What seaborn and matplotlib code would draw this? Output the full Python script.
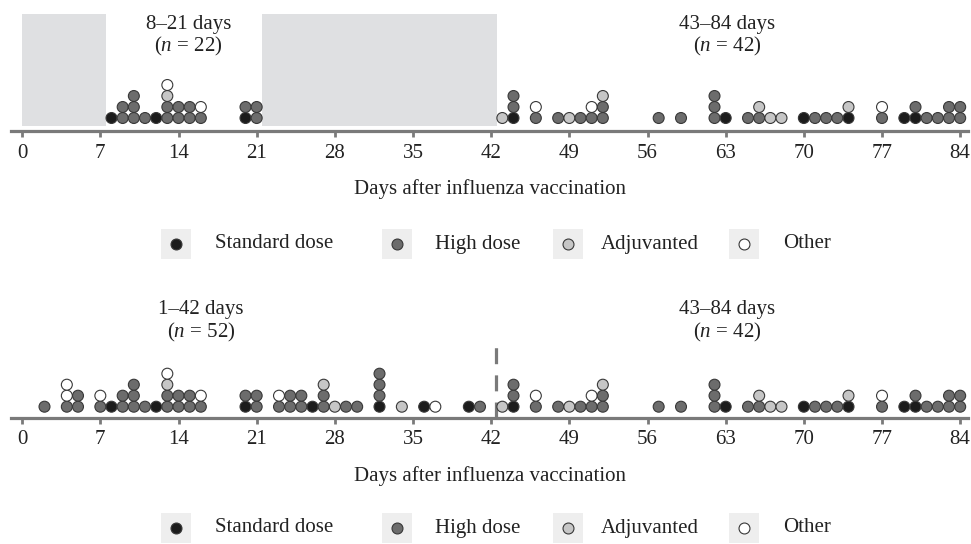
import pandas as pd
import matplotlib
matplotlib.use("Agg")
import matplotlib.pyplot as plt
from matplotlib.patches import Rectangle
import seaborn as sns

# === Data: days with cases and the stacked vaccine types (bottom to top) ===
# S = standard dose, H = high dose, A = adjuvanted, O = other
early_days = [8, 9, 10, 11, 12, 13, 14, 15, 16, 20, 21]
early_stacks = ["S", "HH", "HHH", "H", "S", "HHAO", "HH", "HH", "HO", "SH", "HH"]

wide_days = [2, 4, 5, 7, 8, 9, 10, 11, 12, 13, 14, 15, 16, 20, 21, 23, 24, 25,
             26, 27, 28, 29, 30, 32, 34, 36, 37, 40, 41]
wide_stacks = ["H", "HOO", "HH", "HO", "S", "HH", "HHH", "H", "S", "HHAO", "HH",
               "HH", "HO", "SH", "HH", "HO", "HH", "HH", "S", "HHA", "A", "H",
               "H", "SHHH", "A", "S", "O", "S", "H"]

late_days = [43, 44, 46, 48, 49, 50, 51, 52, 57, 59, 62, 63, 65, 66, 67, 68, 70,
             71, 72, 73, 74, 77, 79, 80, 81, 82, 83, 84]
late_stacks = ["A", "SHH", "HO", "H", "A", "H", "HO", "HHA", "H", "H", "HHH", "S",
               "H", "HA", "A", "A", "S", "H", "H", "H", "SA", "HO", "S", "SH",
               "H", "H", "HH", "HH"]

vaccine_names = ["Standard dose", "High dose", "Adjuvanted", "Other"]
codes = {"S": "Standard dose", "H": "High dose", "A": "Adjuvanted", "O": "Other"}
palette = {"Standard dose": "#1c1c1c", "High dose": "#6c6c6c",
           "Adjuvanted": "#c6c6c6", "Other": "#ffffff"}
tick_days = list(range(0, 85, 7))


def stack_frame(days, stacks):
    rows = []
    for d, s in zip(days, stacks):
        for lvl, c in enumerate(s):
            rows.append({"day": d, "level": lvl, "vaccine": codes[c]})
    return pd.DataFrame(rows)


top_df = pd.concat([stack_frame(early_days, early_stacks),
                    stack_frame(late_days, late_stacks)])
bot_df = pd.concat([stack_frame(wide_days, wide_stacks),
                    stack_frame(late_days, late_stacks)])

# === Style ===
sns.set_theme(style="white")
plt.rcParams["font.family"] = ["Liberation Serif", "DejaVu Serif"]
plt.rcParams["mathtext.fontset"] = "custom"
plt.rcParams["mathtext.rm"] = "Liberation Serif"
plt.rcParams["mathtext.it"] = "Liberation Serif:italic"

W, H = 971, 544
AXIS_GRAY = "#7a7a7a"
TXT = "#222222"
FS = 15
PX_PER_LEVEL = 11.0

fig = plt.figure(figsize=(W / 100, H / 100), dpi=100)


def px_axes(top_px, bottom_px):
    return fig.add_axes([11 / W, (H - bottom_px) / H, 957 / W,
                         (bottom_px - top_px) / H])


def style_axes(ax, height_px, base_px):
    ax.set_xlim(-1, 84.7)
    ax.set_ylim(-base_px / PX_PER_LEVEL, (height_px - base_px) / PX_PER_LEVEL)
    ax.set_xticks(tick_days)
    ax.set_yticks([])
    for side in ["top", "left", "right"]:
        ax.spines[side].set_visible(False)
    ax.spines["bottom"].set_color(AXIS_GRAY)
    ax.spines["bottom"].set_linewidth(2.3)
    ax.tick_params(axis="x", bottom=True, length=4, width=2, color=AXIS_GRAY,
                   pad=5, labelsize=FS, labelcolor=TXT)
    ax.set_ylabel("")
    ax.set_xlabel("Days after influenza vaccination", fontsize=FS, color=TXT,
                  labelpad=12)
    ax.set_facecolor("none")


def dots(ax, df):
    sns.scatterplot(data=df, x="day", y="level", hue="vaccine",
                    hue_order=vaccine_names, palette=palette, s=62,
                    edgecolor="#383838", linewidth=0.8, legend=False, ax=ax,
                    zorder=3)


def legend_row(center_px):
    lax = fig.add_axes([0, (H - center_px - 20) / H, 1, 40 / H])
    lax.set_xlim(0, W)
    lax.set_ylim(-20, 20)
    lax.axis("off")
    for name, mx, tx in zip(vaccine_names, [176, 397, 568, 744],
                            [215, 435, 601, 783]):
        lax.add_patch(Rectangle((mx - 15, -15), 30, 30, color="#eeeeee", lw=0))
        lax.scatter([mx], [0], s=62, color=palette[name], edgecolor="#383838",
                    linewidth=0.8, zorder=3)
        lax.text(tx, 0, name, fontsize=FS, color=TXT, ha="left", va="center")


# === Top panel ===
ax1 = px_axes(10, 131)
ax1.axvspan(0, 7.5, ymin=0.04, ymax=0.97, color="#dfe0e2", lw=0, zorder=0)
ax1.axvspan(21.5, 42.5, ymin=0.04, ymax=0.97, color="#dfe0e2", lw=0, zorder=0)
dots(ax1, top_df)
style_axes(ax1, 121, 13)
ax1.text(14.9, 0.884, "8–21 days", transform=ax1.get_xaxis_transform(),
         ha="center", va="center", fontsize=FS, color=TXT)
ax1.text(14.9, 0.70, "($n$ = 22)", transform=ax1.get_xaxis_transform(),
         ha="center", va="center", fontsize=FS, color=TXT)
ax1.text(63.1, 0.884, "43–84 days", transform=ax1.get_xaxis_transform(),
         ha="center", va="center", fontsize=FS, color=TXT)
ax1.text(63.1, 0.70, "($n$ = 42)", transform=ax1.get_xaxis_transform(),
         ha="center", va="center", fontsize=FS, color=TXT)
legend_row(244)

# === Bottom panel ===
ax2 = px_axes(340, 418)
ax2.axvline(42.4, ymin=0, ymax=0.94, color=AXIS_GRAY, lw=2.3,
            dashes=(5, 3.5), zorder=1)
dots(ax2, bot_df)
style_axes(ax2, 78, 11.3)
ax2.text(16.0, 1.385, "1–42 days", transform=ax2.get_xaxis_transform(),
         ha="center", va="center", fontsize=FS, color=TXT)
ax2.text(16.0, 1.09, "($n$ = 52)", transform=ax2.get_xaxis_transform(),
         ha="center", va="center", fontsize=FS, color=TXT)
ax2.text(63.1, 1.385, "43–84 days", transform=ax2.get_xaxis_transform(),
         ha="center", va="center", fontsize=FS, color=TXT)
ax2.text(63.1, 1.09, "($n$ = 42)", transform=ax2.get_xaxis_transform(),
         ha="center", va="center", fontsize=FS, color=TXT)
legend_row(528)

fig.savefig("out.png", dpi=100)
plt.close(fig)
